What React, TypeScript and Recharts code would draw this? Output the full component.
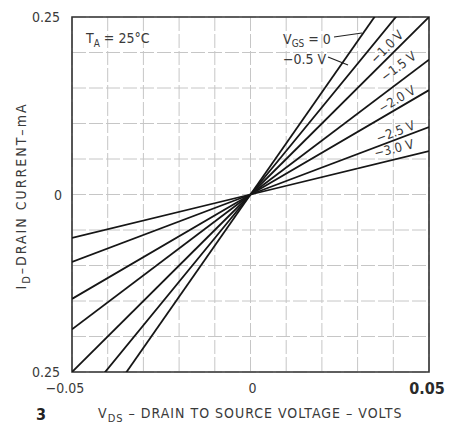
import { LineChart, Line, XAxis, YAxis, CartesianGrid, ReferenceArea, Customized } from "recharts";

// drain-source voltage (V) sample points
const vds = [-0.05, 0, 0.05];
// drain current (mA) for each gate voltage
const idVgs0 = [-0.36, 0, 0.36];
const idVgs05 = [-0.307, 0, 0.307];
const idVgs10 = [-0.25, 0, 0.25];
const idVgs15 = [-0.19, 0, 0.19];
const idVgs20 = [-0.147, 0, 0.147];
const idVgs25 = [-0.095, 0, 0.095];
const idVgs30 = [-0.061, 0, 0.061];

const xTicks = [-0.05, -0.04, -0.03, -0.02, -0.01, 0, 0.01, 0.02, 0.03, 0.04, 0.05];
const yTicks = [-0.25, -0.2, -0.15, -0.1, -0.05, 0, 0.05, 0.1, 0.15, 0.2, 0.25];

const series = [idVgs0, idVgs05, idVgs10, idVgs15, idVgs20, idVgs25, idVgs30];
const data = vds.map((v, i) => {
  const row: Record<string, number> = { vds: v };
  series.forEach((s, k) => (row["s" + k] = s[i]));
  return row;
});

const FONT = "'DejaVu Sans Condensed', 'Liberation Sans Narrow', 'DejaVu Sans', sans-serif";
const INK = "#3a3a3a";

function XTick({ x, y, payload }: any) {
  const v = payload.value;
  if (v === -0.05)
    return <text x={x - 7} y={y + 13} textAnchor="middle" fontSize={14} fill={INK} fontFamily={FONT}>−0.05</text>;
  if (v === 0)
    return <text x={x + 2} y={y + 13} textAnchor="middle" fontSize={14} fill={INK} fontFamily={FONT}>0</text>;
  if (v === 0.05)
    return <text x={x - 2} y={y + 14} textAnchor="middle" fontSize={16} fontWeight="bold" fill="#2a2a2a" fontFamily={FONT}>0.05</text>;
  return null;
}

function YTick({ x, y, payload }: any) {
  const v = payload.value;
  if (v === 0.25 || v === -0.25 || v === 0)
    return <text x={v === 0 ? x - 2 : x - 4} y={y + 5} textAnchor="end" fontSize={14} fill={INK} fontFamily={FONT}>{v === 0 ? "0" : "0.25"}</text>;
  return null;
}

function Annotations() {
  const t = { fontFamily: FONT, fill: INK, fontSize: 13 };
  const rot = (label: string, cx: number, cy: number, ang: number) => (
    <text x={cx} y={cy} textAnchor="middle" transform={`rotate(${ang} ${cx} ${cy})`} {...t}>{label}</text>
  );
  return (
    <g>
      <text x={86} y={43} {...t} fontSize={14}>
        T<tspan dy={4} fontSize={10}>A</tspan><tspan dy={-4}> = 25°C</tspan>
      </text>
      <text x={283} y={44} {...t} fontSize={14}>
        V<tspan dy={3} fontSize={10}>GS</tspan><tspan dy={-3}> = 0</tspan>
      </text>
      <line x1={334} y1={37} x2={362} y2={33} stroke="#222" strokeWidth={1.2} />
      <text x={283} y={64} {...t} fontSize={14}>−0.5 V</text>
      <line x1={328} y1={57} x2={348} y2={65} stroke="#222" strokeWidth={1.2} />
      {rot("−1.0 V", 390, 50, -45)}
      {rot("−1.5 V", 401, 70, -36.6)}
      {rot("−2.0 V", 399, 103, -30.5)}
      {rot("−2.5 V", 397, 136, -20.6)}
      {rot("−3.0 V", 395, 153, -14)}
      <text transform="translate(26 196) rotate(-90)" textAnchor="middle" {...t} fontSize={14} letterSpacing={2}>
        I<tspan dy={4} fontSize={11}>D</tspan><tspan dy={-4}>–DRAIN CURRENT–mA</tspan>
      </text>
      <text x={98} y={418} {...t} fontSize={14} letterSpacing={1}>
        V<tspan dy={4} fontSize={11}>DS</tspan><tspan dy={-4}> – DRAIN TO SOURCE VOLTAGE – VOLTS</tspan>
      </text>
      <text x={41} y={420} textAnchor="middle" fontFamily={FONT} fontSize={16} fontWeight="bold" fill="#222">3</text>
    </g>
  );
}

export default function App() {
  return (
    <div style={{ position: "absolute", left: 0, top: 0, width: 458, height: 427, background: "#fff" }}>
      <LineChart width={458} height={427} data={data} margin={{ top: 17, right: 29, bottom: 0, left: 0 }}>
        <CartesianGrid stroke="#c6c6c6" strokeDasharray="14 3" strokeWidth={1} />
        <XAxis
          dataKey="vds"
          type="number"
          domain={[-0.05, 0.05]}
          ticks={xTicks}
          allowDataOverflow
          axisLine={false}
          tickLine={false}
          height={55}
          tick={<XTick />}
          interval={0}
        />
        <YAxis
          type="number"
          domain={[-0.25, 0.25]}
          ticks={yTicks}
          allowDataOverflow
          axisLine={false}
          tickLine={false}
          width={72}
          tick={<YTick />}
          interval={0}
        />
        <ReferenceArea x1={-0.05} x2={0.05} y1={-0.25} y2={0.25} fill="none" stroke="#333" strokeWidth={1.6} />
        {series.map((_, k) => (
          <Line key={k} dataKey={"s" + k} stroke="#161616" strokeWidth={1.8} dot={false} isAnimationActive={false} />
        ))}
        <Customized component={Annotations} />
      </LineChart>
    </div>
  );
}
